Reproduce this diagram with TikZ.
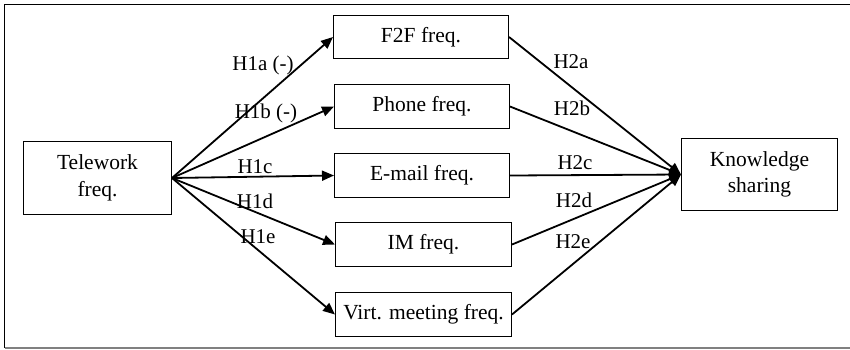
\documentclass[tikz,border=0pt]{standalone}
\usepackage{fontspec}
\setmainfont{Liberation Serif}
\usetikzlibrary{arrows.meta}
\begin{document}
\begin{tikzpicture}[x=1pt,y=-1pt,
  box/.style={draw,line width=1pt,inner sep=0pt,anchor=north west,align=center},
  conn/.style={line width=1.8pt,-{Triangle[length=12pt,width=10pt]}},
  lbl/.style={font=\fontsize{21}{25}\selectfont,inner sep=0pt}]
\useasboundingbox (0,0) rectangle (850,349);
\fill[white] (0,0) rectangle (850,349);
\draw[line width=1.6pt] (850,4.5) -- (4.5,4.5) -- (4.5,348);
\draw[line width=1.2pt,gray] (4.5,348) -- (850,348);
\tikzset{fs/.style={font=\fontsize{21.5}{26.5}\selectfont}}
\node[box,fs,minimum width=148pt,minimum height=73pt] (tw) at (23,141) {Telework\\freq.};
\node[box,fs,minimum width=175pt,minimum height=43pt] (f2f) at (333,15) {F2F freq.};
\node[box,fs,minimum width=175pt,minimum height=44pt] (ph) at (334,84) {Phone freq.};
\node[box,fs,minimum width=175pt,minimum height=44pt] (em) at (334,153) {E-mail freq.};
\node[box,fs,minimum width=176pt,minimum height=44pt] (im) at (335,222) {IM freq.};
\node[box,fs,minimum width=176pt,minimum height=44pt] (vm) at (335,292) {Virt. meeting freq.};
\node[box,fs,minimum width=156pt,minimum height=72pt] (ks) at (681,138) {Knowledge\\sharing};
\foreach \n in {f2f,ph,em,im,vm}{
  \draw[conn] (tw.east) -- (\n.west);
  \draw[conn] (\n.east) -- (ks.west);
}
\node[lbl] (l1a) at (263,65) {H1a (-)};
\node[lbl] (l1b) at (266,113) {H1b (-)};
\node[lbl] (l1c) at (255,167) {H1c};
\node[lbl] (l1d) at (255,201) {H1d};
\node[lbl] (l1e) at (258,237) {H1e};
\node[lbl] (l2a) at (571,62) {H2a};
\node[lbl] (l2b) at (572,108) {H2b};
\node[lbl] (l2c) at (575,163) {H2c};
\node[lbl] (l2d) at (574,200) {H2d};
\node[lbl] (l2e) at (573,242) {H2e};
\end{tikzpicture}
\end{document}
